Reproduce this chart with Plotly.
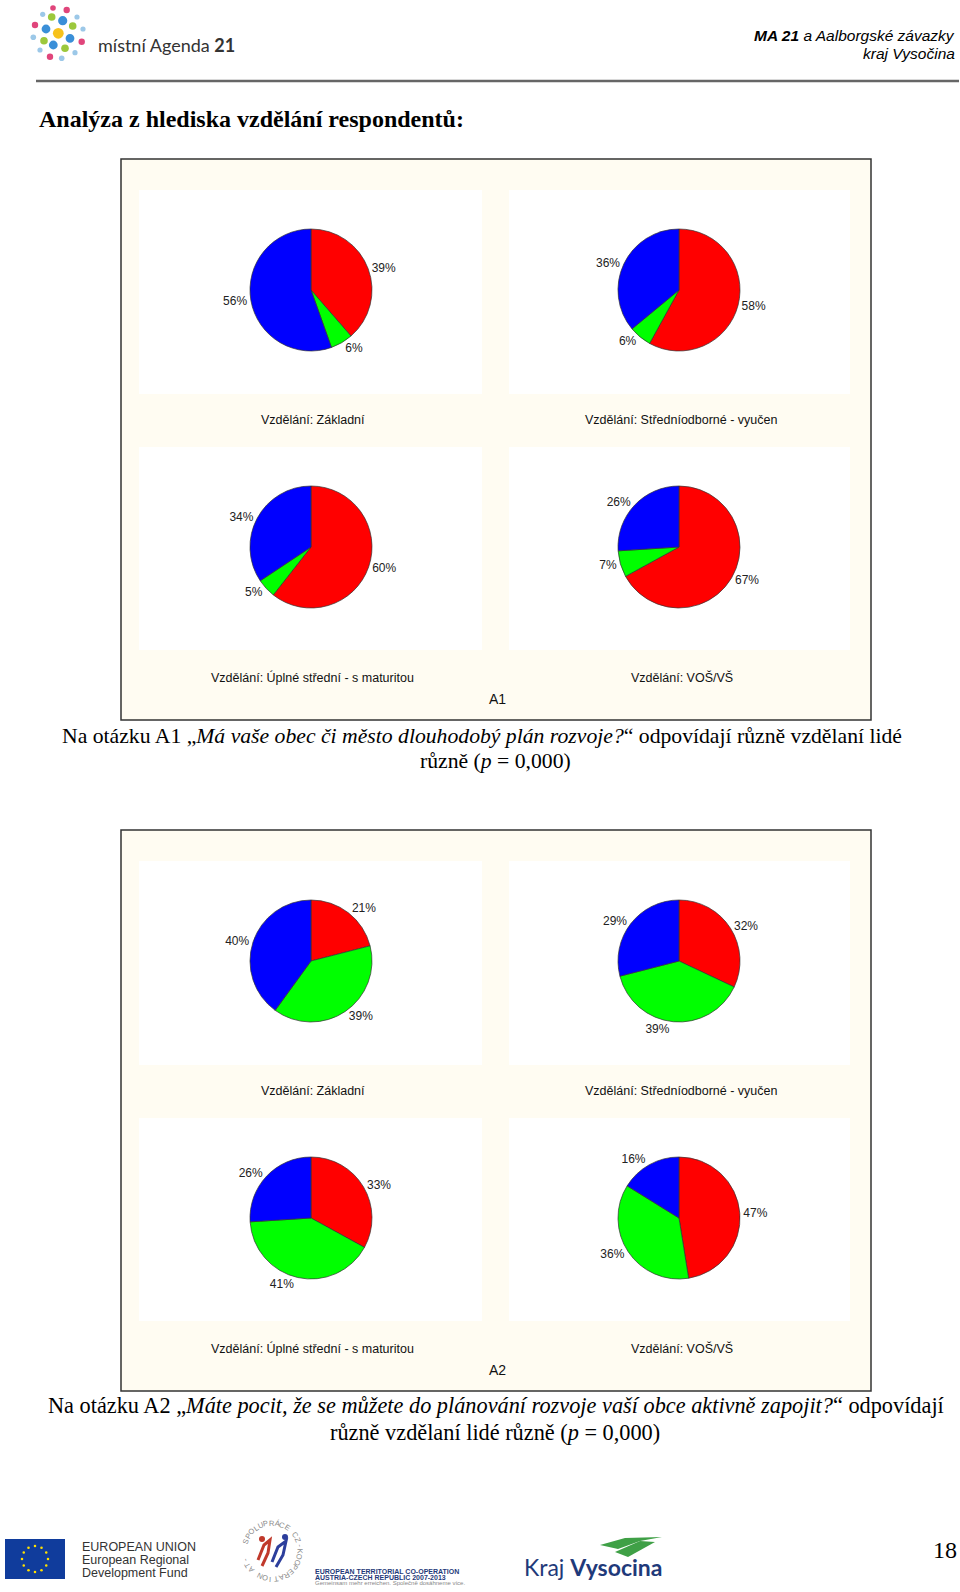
import math
import plotly.graph_objects as go

W, H = 960, 1592

# ---------------- data ----------------
answers = ["Ano", "Nevím", "Ne"]          # red, green, blue
colors = ["#FF0000", "#00FF00", "#0000FF"]
groups = ["Vzdělání: Základní",
          "Vzdělání: Středníodborné - vyučen",
          "Vzdělání: Úplné střední - s maturitou",
          "Vzdělání: VOŠ/VŠ"]
a1_values = [[39, 6, 56], [58, 6, 36], [60, 5, 34], [67, 7, 26]]
a2_values = [[21, 39, 40], [32, 39, 29], [33, 41, 26], [47, 36, 16]]


def px(x):
    return x / W


def py(y):
    return 1 - y / H


fig = go.Figure()
shapes = []
ann = []


def text(x, y, s, size=12, color="#000", family="Liberation Sans", xa="center", ya="middle", angle=0):
    ann.append(dict(x=px(x), y=py(y), xref="paper", yref="paper", text=s, showarrow=False,
                    xanchor=xa, yanchor=ya, textangle=angle,
                    font=dict(size=size, color=color, family=family)))


def rect(x0, y0, x1, y1, fill, line=None, lw=0):
    shapes.append(dict(type="rect", xref="paper", yref="paper", x0=px(x0), x1=px(x1), y0=py(y1), y1=py(y0),
                       fillcolor=fill, line=dict(color=line or fill, width=lw), layer="below"))


def circle(cx, cy, r, fill, layer="above", line=None, lw=0):
    shapes.append(dict(type="circle", xref="paper", yref="paper", x0=px(cx - r), x1=px(cx + r),
                       y0=py(cy + r), y1=py(cy - r), fillcolor=fill,
                       line=dict(color=line or fill, width=lw), layer=layer))


def path(points, fill, closed=True, lw=0, lc=None):
    d = "M " + " L ".join(f"{px(x):.5f},{py(y):.5f}" for x, y in points)
    if closed:
        d += " Z"
    shapes.append(dict(type="path", xref="paper", yref="paper", path=d,
                       fillcolor=fill if closed else "rgba(0,0,0,0)",
                       line=dict(color=lc or fill, width=lw)))


# ---------------- header ----------------
dots = [(42.7, 14.3, 2.6, "#9CC8E8"), (53, 8, 2.8, "#E0457B"), (66.7, 10, 3.2, "#E0457B"),
        (51.7, 17, 3.8, "#9CC83C"), (62.7, 20.7, 4.6, "#3A8FD8"), (77, 17, 2.6, "#9CC8E8"),
        (35, 25, 3.2, "#E0457B"), (46, 29, 4.4, "#3A8FD8"), (58.3, 33.3, 5.4, "#F7C21B"),
        (72.7, 26, 3.8, "#9CC83C"), (83, 29, 2.6, "#9CC8E8"), (33.3, 37.3, 2.8, "#9CC8E8"),
        (44, 40.7, 3.8, "#9CC83C"), (70, 38.3, 4.4, "#3A8FD8"), (81.7, 41.7, 3.2, "#E0457B"),
        (53.3, 45, 4.4, "#3A8FD8"), (65, 48.3, 3.8, "#9CC83C"), (40, 50, 2.6, "#9CC8E8"),
        (75, 52.7, 2.6, "#9CC8E8"), (50, 56.7, 3.2, "#E0457B"), (61.7, 58.3, 2.8, "#9CC8E8")]
for x, y, r, c in dots:
    circle(x, y, r, c)
text(96, 45, "místní Agenda <b>21</b>", size=18, color="#333", family="Lato", xa="left")

text(957, 35, "<b><i>MA 21</i></b><i> a Aalborgské závazky</i>", size=15.5, family="Liberation Sans", xa="right")
text(957, 54, "<i>kraj Vysočina</i>", size=15.5, family="Liberation Sans", xa="right")
shapes.append(dict(type="line", xref="paper", yref="paper", x0=px(36), x1=px(959), y0=py(81), y1=py(81),
                   line=dict(color="#666", width=2.5)))

text(37, 119, "<b>Analýza z hlediska vzdělání respondentů:</b>", size=24, family="Liberation Serif", xa="left")

# ---------------- chart blocks ----------------
panel_x = [(139, 482), (509, 850)]
pie_cx = [311, 679]
R = 61


def block(values, top, label, caption_lines):
    rect(121, top, 871, top + 561, "#FFFCF2", line="#333", lw=1.5)
    rows = [(top + 31, top + 235, top + 131, top + 261), (top + 288, top + 491, top + 388, top + 518)]
    k = 0
    for (y0, y1, cy, capy) in rows:
        for j in range(2):
            x0, x1 = panel_x[j]
            rect(x0, y0, x1, y1, "#FFFFFF")
            cx = pie_cx[j]
            fig.add_trace(go.Pie(
                labels=answers, values=values[k], sort=False, direction="clockwise", rotation=0,
                marker=dict(colors=colors, line=dict(color="#333", width=0.7)),
                texttemplate="%{value}%", textposition="outside", hoverinfo="skip",
                outsidetextfont=dict(size=12, color="#222", family="Liberation Sans"),
                domain=dict(x=[px(cx - R), px(cx + R)], y=[py(cy + R), py(cy - R)]),
                showlegend=False))
            text((x0 + x1) / 2 + 2, capy, groups[k], size=12.5, color="#111")
            k += 1
    text(497, top + 540, label, size=14, color="#111")
    for (s, x, y, fs) in caption_lines:
        text(x, y, s, size=fs, family="Liberation Serif")


block(a1_values, 159, "A1", [
    ("Na otázku A1 „<i>Má vaše obec či město dlouhodobý plán rozvoje?</i>“ odpovídají různě vzdělaní lidé", 482, 736, 21.7),
    ("různě (<i>p</i> = 0,000)", 495, 761, 21.7)])
block(a2_values, 830, "A2", [
    ("Na otázku A2 „<i>Máte pocit, že se můžete do plánování rozvoje vaší obce aktivně zapojit?</i>“ odpovídají", 496, 1405, 22.3),
    ("různě vzdělaní lidé různě (<i>p</i> = 0,000)", 495, 1432, 22.3)])

# ---------------- footer ----------------
rect(5, 1539, 65, 1579, "#103C9C")
for i in range(12):
    a = 2 * math.pi * i / 12
    circle(35 + 13 * math.cos(a), 1559 + 13 * math.sin(a), 1.3, "#FFE000")
text(80, 1547, "EUROPEAN UNION", size=12.5, color="#333", family="Liberation Sans", xa="left")
text(80, 1560, "European Regional", size=12.5, color="#333", family="Liberation Sans", xa="left")
text(80, 1573, "Development Fund", size=12.5, color="#333", family="Liberation Sans", xa="left")

# cooperation logo (circular lettering + figures)
ring = "SPOLUPRÁCE CZ-KOOPERATION AT-"
for i, ch in enumerate(ring):
    a = math.radians(200 + i * 11.5)
    x = 272 + 28 * math.cos(a)
    y = 1551 + 28 * math.sin(a)
    text(x, y, ch, size=7.5, color="#888", angle=math.degrees(a) + 90)
path([(258, 1560), (264, 1545), (270, 1540), (268, 1553), (262, 1566)], "#C0392B", closed=False, lw=3, lc="#C0392B")
path([(272, 1562), (278, 1547), (286, 1541), (283, 1555), (276, 1567)], "#2C3E9C", closed=False, lw=3, lc="#2C3E9C")
circle(262, 1539, 3, "#C0392B")
circle(285, 1537, 3, "#2C3E9C")
text(313, 1571, "<b>EUROPEAN TERRITORIAL CO-OPERATION</b>", size=7, color="#1F3A7A", xa="left")
text(313, 1577, "<b>AUSTRIA-CZECH REPUBLIC 2007-2013</b>", size=7, color="#1F3A7A", xa="left")
text(313, 1583, "Gemeinsam mehr erreichen. Společně dosáhneme více.", size=6, color="#888", xa="left")

# Kraj Vysočina
path([(600, 1545), (625, 1538), (662, 1537), (640, 1541), (618, 1549)], "#3FA046")
path([(615, 1552), (640, 1541), (655, 1542), (628, 1557)], "#3FA046")
text(522, 1567, "Kraj <b>Vysocina</b>", size=23, color="#1F3A7A", family="Lato", xa="left")

text(945, 1550, "18", size=24, family="Liberation Serif")

fig.update_layout(width=W, height=H, margin=dict(l=0, r=0, t=0, b=0),
                  paper_bgcolor="#FFFFFF", plot_bgcolor="#FFFFFF",
                  shapes=shapes, annotations=ann)
fig.write_html("out.html", config={"displayModeBar": False},
               post_script="document.body.style.margin='0';document.body.style.overflow='hidden';")
